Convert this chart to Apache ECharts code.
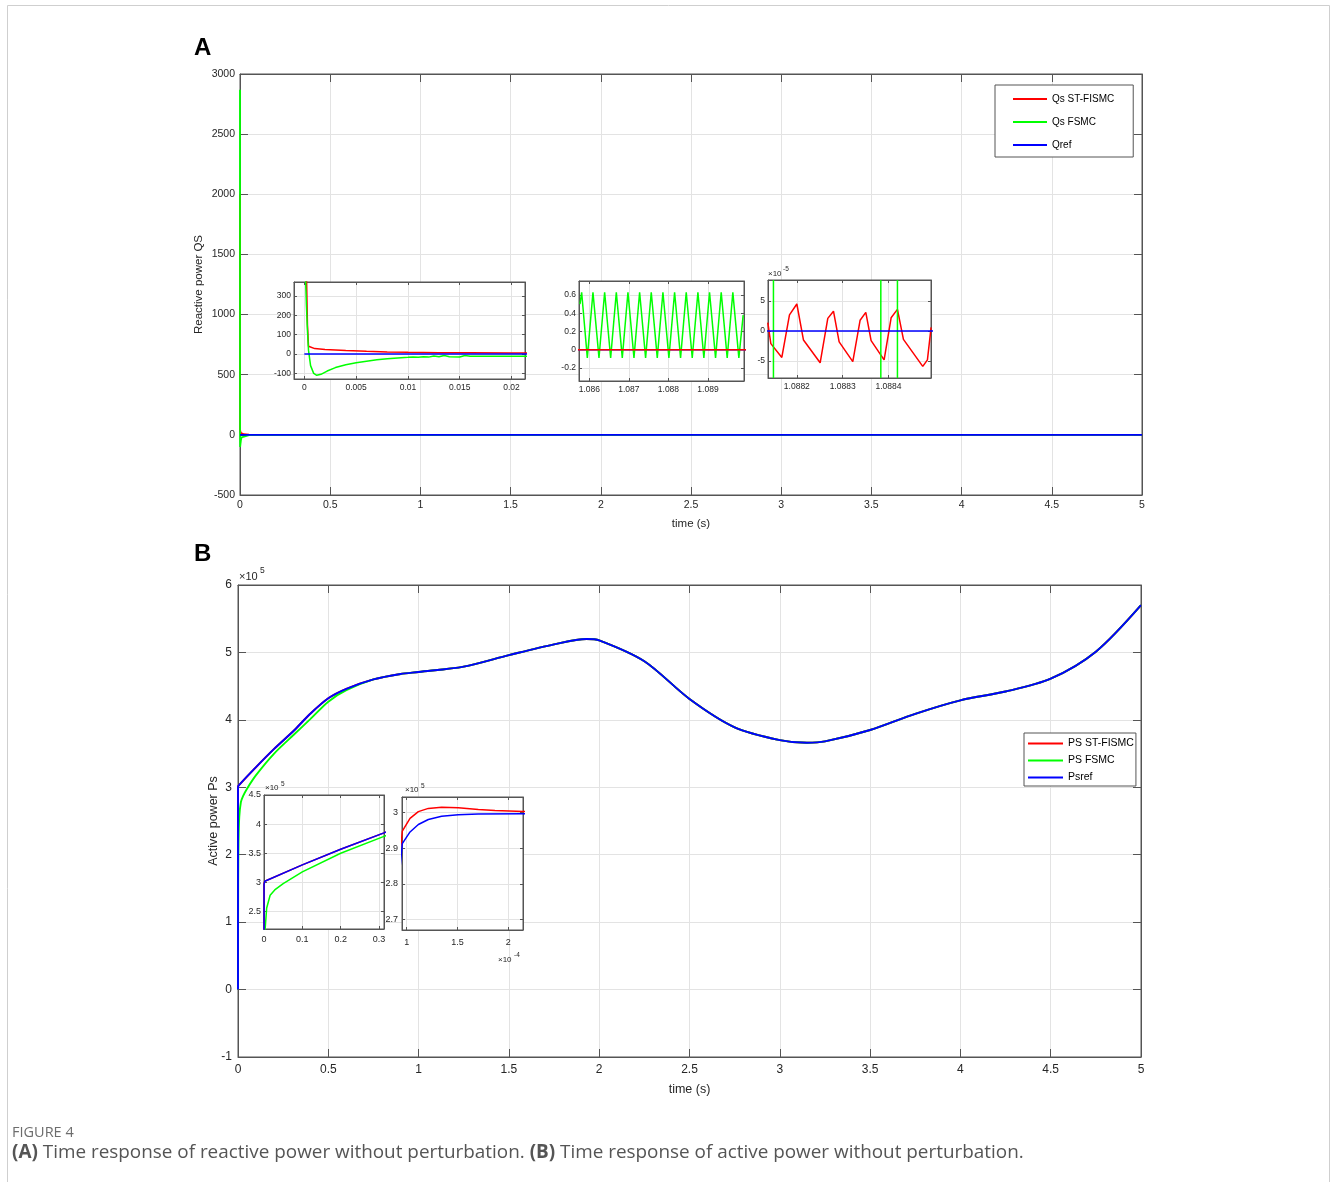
<!DOCTYPE html>
<html>
<head>
<meta charset="utf-8">
<script src="https://cdn.jsdelivr.net/npm/echarts@6/dist/echarts.min.js"></script>
<style>
html, body { margin: 0; padding: 0; background: #fff; }
#chart { width: 1331px; height: 1182px; }
</style>
</head>
<body>
<div id="chart"></div>
<script>
// ---------- panel A : reactive power ----------
// start of the transient (t in s, Q in var)
var qsStT = [0, 0.0002, 0.0003, 0.0004, 0.0005, 0.001, 0.002, 0.004, 0.006, 0.008, 0.01, 0.013, 0.016, 0.02, 0.0212];
var qsStV = [2000, 420, 150, 40, 32, 28, 24, 18, 14, 11, 9, 7, 6, 5, 5];
var qsFsT = [0, 0.0001, 0.0002, 0.0003, 0.0004, 0.0006, 0.0009, 0.0012, 0.0016, 0.0022,
             0.003, 0.004, 0.005, 0.006, 0.007, 0.008, 0.009, 0.01,
             0.0105, 0.011, 0.0115, 0.012, 0.0125, 0.013, 0.0135, 0.014,
             0.015, 0.0155, 0.016, 0.018, 0.02, 0.0212];
var qsFsV = [2870, 420, 250, 120, 20, -60, -100, -110, -105, -88,
             -70, -55, -45, -37, -30, -25, -20, -17,
             -15, -17, -14, -16, -10, -14, -8, -14,
             -15, -8, -12, -12, -11, -11];
// rest of the run
var qsLateT = [0.05, 5];
var qsStLateV = [1, 0];
var qsFsLateV = [-3, 0];
var qrefT = [0, 5];
var qrefV = [0, 0];

// FSMC chattering around t = 1.087 s
var qsFsWinT = [1.085765, 1.085807, 1.085950, 1.086093, 1.086245, 1.086388, 1.086540, 1.086683,
                1.086834, 1.086977, 1.087129, 1.087272, 1.087423, 1.087566, 1.087718, 1.087861,
                1.088012, 1.088156, 1.088307, 1.088450, 1.088602, 1.088745, 1.088896, 1.089039,
                1.089191, 1.089334, 1.089485, 1.089628, 1.089780, 1.089889];
var qsFsWinV = [0.50, 0.63, -0.09, 0.63, -0.09, 0.63, -0.09, 0.63,
                -0.09, 0.63, -0.09, 0.63, -0.09, 0.63, -0.09, 0.63,
                -0.09, 0.63, -0.09, 0.63, -0.09, 0.63, -0.09, 0.63,
                -0.09, 0.63, -0.09, 0.63, -0.09, 0.38];

// ST-FISMC around t = 1.0883 s (values x 1e-5)
var qsStZoomT = [1.0881366, 1.0881432, 1.0881672, 1.0881839, 1.0882000, 1.0882145, 1.0882509,
                 1.0882676, 1.0882800, 1.0882924, 1.0883222, 1.0883382, 1.0883506, 1.0883622,
                 1.0883906, 1.0884059, 1.0884197, 1.0884328, 1.0884750, 1.0884852, 1.0884932];
var qsStZoomV = [1.4, -2.1, -4.4, 2.7, 4.5, -1.5, -5.3,
                 2.1, 3.3, -1.8, -5.1, 1.8, 3.1, -1.6,
                 -4.8, 2.2, 3.6, -1.4, -5.9, -4.8, 0.6];
// FSMC zero crossings inside that window
var qsFsCrossT = [1.0881489, 1.0883834, 1.0884197];

// ---------- panel B : active power (x 1e5 W) ----------
// first 0.2 ms (t in 1e-4 s)
var psStMicroT = [0.957, 1.033, 1.115, 1.213, 1.344, 1.508, 1.705, 1.869, 2.148];
var psStMicroV = [2.948, 2.984, 3.003, 3.012, 3.015, 3.014, 3.009, 3.006, 3.003];
var psRefMicroT = [0.957, 1.033, 1.115, 1.213, 1.344, 1.508, 1.705, 2.148];
var psRefMicroV = [2.913, 2.946, 2.967, 2.981, 2.990, 2.994, 2.996, 2.997];
// first 0.3 s
var psRefEarlyT = [0.002, 0.1, 0.2, 0.313];
var psRefEarlyV = [3.02, 3.30, 3.57, 3.85];
var psFsEarlyT = [0.001, 0.003, 0.007, 0.016, 0.028, 0.05, 0.1, 0.2, 0.313, 0.4, 0.5, 0.6];
var psFsEarlyV = [1.6, 2.2, 2.56, 2.78, 2.87, 2.98, 3.18, 3.50, 3.79, 4.01, 4.27, 4.44];
// whole run
var psT = [0.4, 0.5, 0.6, 0.75, 0.9, 1.0, 1.25, 1.5, 1.75, 1.93, 2.0, 2.25,
           2.5, 2.75, 3.0, 3.15, 3.25, 3.5, 3.75, 4.0, 4.25, 4.5, 4.75, 5.0];
var psRefV = [4.09, 4.32, 4.46, 4.60, 4.68, 4.71, 4.79, 4.96, 5.12, 5.20, 5.18, 4.87,
              4.31, 3.89, 3.70, 3.66, 3.68, 3.85, 4.09, 4.29, 4.42, 4.61, 5.01, 5.70];

var namesA = ['Qs ST-FISMC', 'Qs FSMC', 'Qref'];
var namesB = ['PS ST-FISMC', 'PS FSMC', 'Psref'];

// ---------- helpers ----------
var BOX = '#555555', GRIDC = '#e3e3e3', TXT = '#262626';
var RED = '#ff0000', GREEN = '#00ff00', BLUE = '#0000ff';
var FONT = '"Liberation Sans", Arial, sans-serif';
var CAP_FONT = '"Open Sans", "Noto Sans", sans-serif';

var grids = [], xAxes = [], yAxes = [], series = [];

function zip(t, v, k) {
    var out = [];
    for (var i = 0; i < t.length; i++) out.push([t[i] * (k || 1), v[i]]);
    return out;
}

function fmt(step, scale) {
    return function (v) {
        var k = v / step;
        if (Math.abs(k - Math.round(k)) > 1e-6) return '';
        return String(parseFloat((v * (scale || 1)).toPrecision(10)));
    };
}

function addPanel(p) {
    var gi = grids.length;
    grids.push({
        left: p.left, top: p.top, width: p.width, height: p.height,
        show: true, backgroundColor: '#fff', borderColor: BOX, borderWidth: 1,
        z: p.z, containLabel: false, outerBoundsMode: 'none'
    });
    var idx = {};
    ['x', 'y'].forEach(function (d) {
        var s = p[d];
        var list = d === 'x' ? xAxes : yAxes;
        var near = d === 'x' ? 'bottom' : 'left';
        var far = d === 'x' ? 'top' : 'right';
        function axis(extra) {
            var o = { type: 'value', gridIndex: gi, min: s.min, max: s.max,
                      minInterval: s.step, maxInterval: s.step, splitNumber: 5 };
            for (var k in extra) o[k] = extra[k];
            return o;
        }
        var line = { show: true, onZero: false, lineStyle: { color: BOX, width: 1 } };
        var tick = { show: true, inside: true, length: p.tick, lineStyle: { color: BOX, width: 1 } };
        // grid lines only
        list.push(axis({
            position: near, z: p.z,
            axisLine: { show: false, onZero: false }, axisTick: { show: false }, axisLabel: { show: false },
            splitLine: { show: true, showMinLine: false, showMaxLine: false, lineStyle: { color: GRIDC, width: 1 } }
        }));
        idx[d] = list.length;
        list.push(axis({
            position: near, z: p.z + 1,
            axisLine: line, axisTick: tick,
            axisLabel: { show: true, color: TXT, fontSize: p.font, fontFamily: FONT,
                         margin: s.margin, formatter: fmt(s.step, s.scale) },
            splitLine: { show: false },
            name: s.name || '', nameLocation: 'middle', nameGap: s.nameGap || 0, nameMoveOverlap: false,
            nameTextStyle: { color: TXT, fontSize: p.nameFont || p.font, fontFamily: FONT }
        }));
        list.push(axis({
            position: far, z: p.z + 1,
            axisLine: line, axisTick: tick, axisLabel: { show: false }, splitLine: { show: false }
        }));
    });
    idx.z = p.z + 2;
    return idx;
}

function addLine(ax, name, color, data, width, extra) {
    var s = {
        type: 'line', name: name, xAxisIndex: ax.x, yAxisIndex: ax.y, data: data,
        showSymbol: false, symbol: 'none', clip: true, silent: true, connectNulls: false,
        lineStyle: { color: color, width: width }, itemStyle: { color: color }, z: ax.z
    };
    for (var k in extra) s[k] = extra[k];
    series.push(s);
}

// ---------- build series data ----------
var qStMain = zip(qsStT, qsStV).concat(zip(qsLateT, qsStLateV));
var qFsMain = zip(qsFsT, qsFsV).concat(zip(qsLateT, qsFsLateV));
var qRef = zip(qrefT, qrefV);
var qFsWin = zip(qsFsWinT, qsFsWinV);
var qStZoom = zip(qsStZoomT, qsStZoomV);
var A3_Y = [-7.83, 8.5];
var qFsCross = [];
qsFsCrossT.forEach(function (t) {
    qFsCross.push([t, A3_Y[0]], [t, A3_Y[1]], ['-', '-']);
});

var pRef = [[0, 0]].concat(zip(psRefMicroT, psRefMicroV, 1e-4), zip(psRefEarlyT, psRefEarlyV), zip(psT, psRefV));
var pSt = [[0, 0]].concat(zip(psStMicroT, psStMicroV, 1e-4), zip(psRefEarlyT, psRefEarlyV), zip(psT, psRefV));
var pFs = [[0, 0]].concat(zip(psFsEarlyT, psFsEarlyV));
psT.forEach(function (t, i) { if (t > 0.6) pFs.push([t, psRefV[i]]); });

// ---------- panels ----------
var mainA = addPanel({
    left: 240, top: 74, width: 902, height: 421, z: 0, tick: 8, font: 10.5, nameFont: 11.5,
    x: { min: 0, max: 5, step: 0.5, margin: 5, name: 'time (s)', nameGap: 23 },
    y: { min: -500, max: 3000, step: 500, margin: 5, name: 'Reactive power QS', nameGap: 35 }
});
var a1 = addPanel({
    left: 294, top: 282, width: 231, height: 97, z: 5, tick: 3, font: 8.5,
    x: { min: -0.001, max: 0.0213, step: 0.005, margin: 4 },
    y: { min: -129, max: 372, step: 100, margin: 3 }
});
var a2 = addPanel({
    left: 579, top: 281, width: 165, height: 100, z: 5, tick: 3, font: 8.5,
    x: { min: 1.08574, max: 1.08991, step: 0.001, margin: 4 },
    y: { min: -0.344, max: 0.754, step: 0.2, margin: 3 }
});
var a3 = addPanel({
    left: 768, top: 280, width: 163, height: 98, z: 5, tick: 3, font: 8.5,
    x: { min: 1.088137, max: 1.088493, step: 0.0001, margin: 4 },
    y: { min: A3_Y[0], max: A3_Y[1], step: 5, margin: 3 }
});
var mainB = addPanel({
    left: 238, top: 585, width: 903, height: 472, z: 0, tick: 8, font: 12, nameFont: 12.5,
    x: { min: 0, max: 5, step: 0.5, margin: 7, name: 'time (s)', nameGap: 26 },
    y: { min: -1, max: 6, step: 1, margin: 6, name: 'Active power Ps', nameGap: 18 }
});
var b1 = addPanel({
    left: 264, top: 795, width: 120, height: 134, z: 5, tick: 3, font: 9,
    x: { min: 0, max: 0.313, step: 0.1, margin: 6 },
    y: { min: 2.2, max: 4.5, step: 0.5, margin: 3 }
});
var b2 = addPanel({
    left: 402, top: 797, width: 121, height: 133, z: 5, tick: 3, font: 9,
    x: { min: 0.954e-4, max: 2.145e-4, step: 0.5e-4, scale: 1e4, margin: 8 },
    y: { min: 2.671, max: 3.044, step: 0.1, margin: 4 }
});

// panel A
addLine(mainA, namesA[0], RED, qStMain, 1.8);
addLine(mainA, namesA[1], GREEN, qFsMain, 1.8);
addLine(mainA, namesA[2], BLUE, qRef, 1.8);
addLine(a1, namesA[0], RED, qStMain, 1.5);
addLine(a1, namesA[1], GREEN, qFsMain, 1.5);
addLine(a1, namesA[2], BLUE, qRef, 1.5);
addLine(a2, namesA[2], BLUE, qRef, 1.5);
addLine(a2, namesA[1], GREEN, qFsWin, 1.5);
addLine(a2, namesA[0], RED, qRef, 1.5);
addLine(a3, namesA[0], RED, qStZoom, 1.5);
addLine(a3, namesA[1], GREEN, qFsCross, 1.5);
addLine(a3, namesA[2], BLUE, qRef, 1.5);

// panel B (the long-run curve is smoothed, the zooms are not)
[mainB, b1, b2].forEach(function (ax) {
    var isMain = ax === mainB;
    var w = isMain ? 1.9 : 1.5;
    var opt = isMain ? { smooth: 0.3 } : {};
    addLine(ax, namesB[0], RED, pSt, w, opt);
    addLine(ax, namesB[1], GREEN, pFs, w, opt);
    addLine(ax, namesB[2], BLUE, pRef, w, opt);
});

// ---------- texts ----------
function txt(x, y, s, size, extra) {
    var st = { text: s, x: x, y: y, fill: '#1a1a1a', fontSize: size, fontFamily: FONT,
               textAlign: 'left', textVerticalAlign: 'middle' };
    for (var k in extra) st[k] = extra[k];
    return { type: 'text', z: 100, silent: true, style: st };
}

var graphics = [
    { type: 'rect', z: 0, silent: true, shape: { x: 7.5, y: 5.5, width: 1322, height: 1200 },
      style: { fill: 'none', stroke: '#cfcfcf', lineWidth: 1 } },
    txt(194, 48, 'A', 24, { fontWeight: 'bold', fill: '#000' }),
    txt(194, 554, 'B', 24, { fontWeight: 'bold', fill: '#000' }),
    txt(239, 577, '\u00d710', 11, { fill: TXT }),
    txt(260, 571, '5', 8.5, { fill: TXT }),
    txt(768, 274, '\u00d710', 8, { fill: TXT }),
    txt(783, 269, '-5', 6.5, { fill: TXT }),
    txt(265, 788, '\u00d710', 8, { fill: TXT }),
    txt(281, 784, '5', 6.5, { fill: TXT }),
    txt(405, 790, '\u00d710', 8, { fill: TXT }),
    txt(421, 786, '5', 6.5, { fill: TXT }),
    txt(498, 960, '\u00d710', 8, { fill: TXT }),
    txt(514, 955, '-4', 6.5, { fill: TXT }),
    txt(12, 1133, 'FIGURE 4', 14.5, { fill: '#6d6d6d', fontFamily: CAP_FONT }),
    txt(12, 1153, '{b|(A)} Time response of reactive power without perturbation. {b|(B)} Time response of active power without perturbation.', 18.9, {
        fill: '#555555', fontFamily: CAP_FONT,
        rich: { b: { fontWeight: 'bold', fontSize: 18.9, fill: '#555555', fontFamily: CAP_FONT } }
    })
];

var legendA = {
    data: namesA, left: 995, top: 85, orient: 'vertical', selectedMode: false,
    backgroundColor: '#fff', borderColor: BOX, borderWidth: 1, borderRadius: 0,
    padding: [9, 19, 7, 18], itemGap: 13, itemWidth: 34, itemHeight: 2, icon: 'rect',
    textStyle: { color: '#000', fontSize: 10, fontFamily: FONT }, z: 10
};
var legendB = {
    data: namesB, left: 1024, top: 733, orient: 'vertical', selectedMode: false,
    backgroundColor: '#fff', borderColor: BOX, borderWidth: 1, borderRadius: 0,
    padding: [5, 2, 3, 4], itemGap: 6, itemWidth: 35, itemHeight: 2, icon: 'rect',
    textStyle: { color: '#000', fontSize: 10.5, fontFamily: FONT }, z: 10
};

var chart = echarts.init(document.getElementById('chart'), null, { renderer: 'canvas' });
chart.setOption({
    animation: false,
    backgroundColor: '#fff',
    grid: grids,
    xAxis: xAxes,
    yAxis: yAxes,
    legend: [legendA, legendB],
    series: series,
    graphic: { elements: graphics }
});
</script>
</body>
</html>
